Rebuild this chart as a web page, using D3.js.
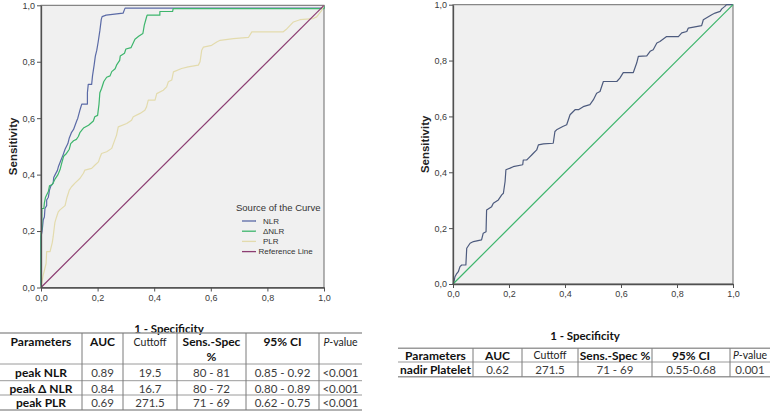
<!DOCTYPE html>
<html><head><meta charset="utf-8">
<script src="https://cdn.jsdelivr.net/npm/d3@7/dist/d3.min.js"></script>
<style>body{margin:0;background:#fff}svg{display:block}</style>
</head><body>
<svg id="c" width="771" height="416"></svg>
<script>
// ---------- DATA ----------
const tickValues = [0, 0.2, 0.4, 0.6, 0.8, 1.0];
const tickLabels = ["0,0", "0,2", "0,4", "0,6", "0,8", "1,0"];

// ROC points [1 - specificity, sensitivity]
const nlrCurve = [[0,0],[0,0.18],[0.004,0.2],[0.006,0.22],[0.008,0.24],[0.012,0.25],[0.014,0.28],[0.02,0.29],[0.02,0.31],[0.026,0.32],[0.03,0.345],[0.035,0.36],[0.043,0.37],[0.045,0.39],[0.05,0.40],[0.058,0.415],[0.062,0.43],[0.07,0.45],[0.078,0.47],[0.085,0.49],[0.095,0.51],[0.1,0.53],[0.108,0.55],[0.115,0.56],[0.126,0.59],[0.13,0.60],[0.138,0.63],[0.144,0.65],[0.164,0.65],[0.164,0.69],[0.167,0.72],[0.179,0.72],[0.182,0.75],[0.188,0.79],[0.192,0.82],[0.197,0.84],[0.202,0.87],[0.208,0.91],[0.213,0.95],[0.216,0.96],[0.23,0.965],[0.29,0.972],[0.297,0.99],[1,0.99],[1,1]];
const dnlrCurve = [[0,0],[0,0.19],[0.003,0.21],[0.003,0.28],[0.01,0.28],[0.012,0.30],[0.016,0.32],[0.026,0.34],[0.03,0.36],[0.04,0.365],[0.045,0.375],[0.05,0.385],[0.06,0.40],[0.068,0.42],[0.073,0.44],[0.08,0.465],[0.09,0.475],[0.1,0.49],[0.105,0.51],[0.115,0.52],[0.125,0.525],[0.132,0.535],[0.138,0.55],[0.15,0.565],[0.168,0.575],[0.185,0.59],[0.19,0.605],[0.2,0.61],[0.205,0.65],[0.208,0.69],[0.214,0.705],[0.222,0.73],[0.232,0.745],[0.244,0.75],[0.25,0.765],[0.262,0.775],[0.268,0.79],[0.278,0.805],[0.28,0.82],[0.295,0.83],[0.3,0.845],[0.318,0.85],[0.325,0.865],[0.332,0.88],[0.345,0.89],[0.36,0.90],[0.365,0.93],[0.372,0.955],[0.375,0.965],[0.42,0.965],[0.42,0.978],[0.465,0.978],[0.467,0.988],[1,0.988],[1,1]];
const plrCurve = [[0,0],[0.008,0.045],[0.018,0.085],[0.02,0.127],[0.032,0.127],[0.04,0.16],[0.043,0.18],[0.049,0.23],[0.055,0.25],[0.061,0.268],[0.067,0.275],[0.085,0.29],[0.092,0.32],[0.1,0.345],[0.108,0.357],[0.12,0.37],[0.138,0.387],[0.15,0.405],[0.155,0.416],[0.179,0.422],[0.191,0.434],[0.203,0.445],[0.208,0.46],[0.214,0.475],[0.232,0.481],[0.25,0.493],[0.256,0.51],[0.267,0.54],[0.273,0.569],[0.303,0.581],[0.32,0.593],[0.326,0.605],[0.35,0.617],[0.367,0.628],[0.373,0.64],[0.379,0.664],[0.403,0.664],[0.409,0.687],[0.432,0.699],[0.444,0.711],[0.45,0.729],[0.462,0.735],[0.468,0.764],[0.497,0.776],[0.52,0.782],[0.556,0.788],[0.562,0.8],[0.568,0.841],[0.574,0.852],[0.603,0.858],[0.621,0.87],[0.633,0.876],[0.68,0.882],[0.733,0.886],[0.745,0.906],[0.856,0.906],[0.866,0.914],[0.892,0.941],[0.915,0.949],[0.962,0.953],[0.974,0.959],[0.992,0.982],[1,1]];
const referenceLine = [[0,0],[1,1]];
const plateletCurve = [[0,0],[0.004,0.01],[0.007,0.026],[0.012,0.035],[0.019,0.044],[0.025,0.062],[0.031,0.068],[0.046,0.068],[0.049,0.128],[0.061,0.146],[0.073,0.152],[0.102,0.158],[0.108,0.182],[0.118,0.187],[0.12,0.265],[0.138,0.277],[0.144,0.289],[0.162,0.301],[0.174,0.319],[0.18,0.325],[0.186,0.367],[0.189,0.409],[0.204,0.415],[0.215,0.42],[0.249,0.427],[0.251,0.444],[0.263,0.444],[0.269,0.45],[0.281,0.462],[0.287,0.468],[0.299,0.48],[0.305,0.498],[0.323,0.502],[0.358,0.504],[0.364,0.546],[0.37,0.552],[0.392,0.564],[0.406,0.57],[0.418,0.606],[0.436,0.624],[0.448,0.624],[0.465,0.635],[0.489,0.642],[0.501,0.659],[0.513,0.683],[0.525,0.689],[0.537,0.725],[0.585,0.725],[0.596,0.737],[0.608,0.757],[0.644,0.757],[0.656,0.791],[0.662,0.815],[0.692,0.817],[0.704,0.833],[0.715,0.839],[0.728,0.863],[0.739,0.868],[0.751,0.877],[0.763,0.886],[0.805,0.886],[0.817,0.899],[0.835,0.904],[0.84,0.916],[0.888,0.925],[0.894,0.946],[0.924,0.964],[0.936,0.97],[0.954,0.976],[0.96,0.985],[0.971,0.994],[0.977,1],[1,1]];

const legendTitle = "Source of the Curve";
const legendNames = ["NLR", "\u0394NLR", "PLR", "Reference Line"];
const xAxisTitle = "1 - Specificity";
const yAxisTitle = "Sensitivity";

const leftHeader = [["Parameters"], ["AUC"], ["Cuttoff"], ["Sens.-Spec", "%"], ["95% CI"], ["P-value"]];
const leftRows = [
  ["peak NLR", "0.89", "19.5", "80 - 81", "0.85 - 0.92", "<0.001"],
  ["peak \u0394 NLR", "0.84", "16.7", "80 - 72", "0.80 - 0.89", "<0.001"],
  ["peak PLR", "0.69", "271.5", "71 - 69", "0.62 - 0.75", "<0.001"]
];
const rightHeader = [["Parameters"], ["AUC"], ["Cuttoff"], ["Sens.-Spec %"], ["95% CI"], ["P-value"]];
const rightRows = [
  ["nadir Platelet", "0.62", "271.5", "71 - 69", "0.55-0.68", "0.001"]
];

// ---------- STYLE / LAYOUT ----------
const colors = { nlr: "#5a6aa6", dnlr: "#3db56c", plr: "#e3dbad", ref: "#8c3d72", plat: "#4d5b7e", diag: "#3db56c" };
const svg = d3.select("#c");
const AX = "Liberation Sans, Arial, sans-serif";
const TB = "Lato, 'Noto Sans', sans-serif";

function plot(px0, px1, py0, py1, series, yTitleX, xTitleX, xTitleY) {
  const x = d3.scaleLinear().domain([0, 1]).range([px0, px1]);
  const y = d3.scaleLinear().domain([0, 1]).range([py0, py1]);
  const g = svg.append("g");
  g.append("rect").attr("x", px0).attr("y", py1).attr("width", px1 - px0).attr("height", py0 - py1)
    .attr("fill", "#f0f0f0").attr("stroke", "#6a6a6a").attr("stroke-width", 1);
  const line = d3.line().x(d => x(d[0])).y(d => y(d[1]));
  series.forEach(s => {
    g.append("path").attr("d", line(s.data)).attr("fill", "none").attr("stroke", s.color).attr("stroke-width", s.w || 1.2)
      .attr("stroke-linejoin", "round");
  });
  const fmt = d => tickLabels[tickValues.indexOf(d)];
  const ax = g.append("g").attr("transform", `translate(0,${py0})`)
    .call(d3.axisBottom(x).tickValues(tickValues).tickFormat(fmt).tickSize(4).tickSizeOuter(0).tickPadding(3));
  const ay = g.append("g").attr("transform", `translate(${px0},0)`)
    .call(d3.axisLeft(y).tickValues(tickValues).tickFormat(fmt).tickSize(4).tickSizeOuter(0).tickPadding(2));
  [ax, ay].forEach(a => {
    a.select(".domain").attr("stroke", "#505050").attr("stroke-width", 1.3);
    a.selectAll(".tick line").attr("stroke", "#505050");
    a.selectAll(".tick text").attr("fill", "#3a3a3a").attr("font-family", AX).attr("font-size", 9);
  });
  g.append("text").attr("transform", `translate(${yTitleX},${(py0 + py1) / 2})rotate(-90)`)
    .attr("text-anchor", "middle").attr("dominant-baseline", "central")
    .attr("font-family", AX).attr("font-weight", "bold").attr("font-size", 11.5).attr("fill", "#222").text(yAxisTitle);
  svg.append("text").attr("x", xTitleX).attr("y", xTitleY).attr("text-anchor", "middle").attr("dominant-baseline", "central")
    .attr("font-family", TB).attr("font-weight", "bold").attr("font-size", 11.5).attr("fill", "#111").text(xAxisTitle);
  return { x, y, g };
}

// Left plot
const L = plot(41, 324, 287.5, 5.3, [
  { data: nlrCurve, color: colors.nlr },
  { data: dnlrCurve, color: colors.dnlr },
  { data: plrCurve, color: colors.plr },
  { data: referenceLine, color: colors.ref }
], 13, 169, 328);

// Legend
const lg = svg.append("g");
lg.append("text").attr("x", 236).attr("y", 207).attr("dominant-baseline", "central")
  .attr("font-family", AX).attr("font-size", 9.5).attr("fill", "#333").text(legendTitle);
const legColors = [colors.nlr, colors.dnlr, colors.plr, colors.ref];
legendNames.forEach((n, i) => {
  const yy = 221 + i * 10.2;
  lg.append("line").attr("x1", 242).attr("x2", 256).attr("y1", yy).attr("y2", yy).attr("stroke", legColors[i]).attr("stroke-width", 1.3);
  lg.append("text").attr("x", i === 3 ? 258.5 : 263).attr("y", yy).attr("dominant-baseline", "central")
    .attr("font-family", AX).attr("font-size", 8).attr("fill", "#333").text(n);
});

// Right plot
plot(453, 733, 284, 4.7, [
  { data: plateletCurve, color: colors.plat },
  { data: referenceLine, color: colors.diag }
], 425, 585, 335);

// ---------- TABLES ----------
function table(bounds, top, rowLines, header, rows, headerLineH, textY) {
  const g = svg.append("g");
  const x0 = bounds[0], x1 = bounds[bounds.length - 1];
  // horizontal lines
  rowLines.forEach((yy, i) => {
    g.append("line").attr("x1", x0).attr("x2", x1).attr("y1", yy).attr("y2", yy)
      .attr("stroke", "#9a9a9a").attr("stroke-width", (i === 0 || i === rowLines.length - 1) ? 1.6 : 1);
  });
  // vertical lines
  bounds.slice(1, -1).forEach(bx => {
    g.append("line").attr("x1", bx).attr("x2", bx).attr("y1", rowLines[0]).attr("y2", rowLines[rowLines.length - 1])
      .attr("stroke", "#7a7a7a").attr("stroke-width", 1);
  });
  const cx = i => (bounds[i] + bounds[i + 1]) / 2;
  // header
  header.forEach((lines, i) => {
    lines.forEach((t, k) => {
      const tx = g.append("text").attr("x", cx(i)).attr("y", textY[0] + k * headerLineH).attr("text-anchor", "middle")
        .attr("dominant-baseline", "central").attr("font-family", TB).attr("fill", "#111");
      if (t === "P-value") {
        tx.attr("font-size", 10.5).attr("fill", "#222");
        tx.append("tspan").attr("font-style", "italic").text("P");
        tx.append("tspan").text("-value");
      } else if (t === "Cuttoff") {
        tx.attr("font-size", 10.5).attr("fill", "#222").text(t);
      } else {
        tx.attr("font-size", 12).attr("font-weight", "bold").text(t);
      }
    });
  });
  rows.forEach((r, j) => {
    r.forEach((t, i) => {
      g.append("text").attr("x", cx(i)).attr("y", textY[j + 1]).attr("text-anchor", "middle")
        .attr("dominant-baseline", "central").attr("font-family", TB)
        .attr("font-size", i === 0 ? 12 : 11.5).attr("font-weight", i === 0 ? "bold" : "normal")
        .attr("fill", i === 0 ? "#111" : "#3c3c3c").text(t);
    });
  });
}

table([0, 82, 123, 177, 246, 319, 362], 333, [333, 364, 380.7, 395, 410], leftHeader, leftRows, 14.5, [341.5, 372.5, 388, 402.5]);
table([398, 473, 522, 578, 652, 730, 770], 348, [348.3, 362, 376.7], rightHeader, rightRows, 0, [355, 369.5]);
</script>
</body></html>
